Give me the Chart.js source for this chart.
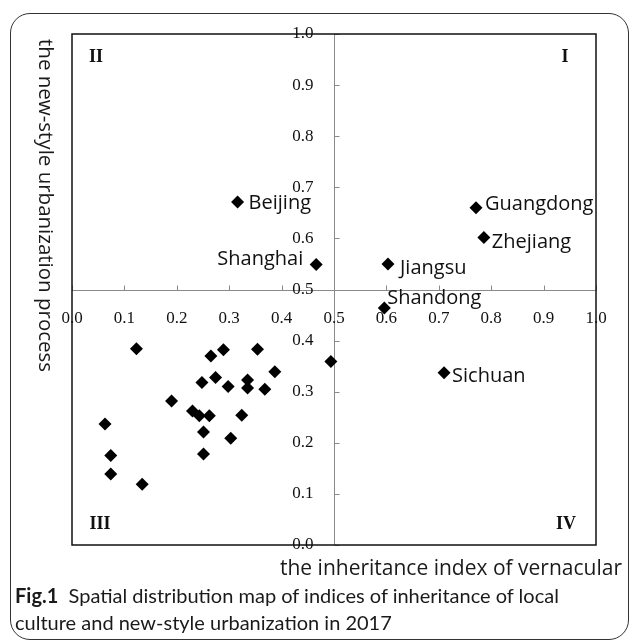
<!DOCTYPE html>
<html lang="en">
<head>
<meta charset="UTF-8">
<title>Spatial distribution map</title>
<script src="https://cdn.jsdelivr.net/npm/chart.js"></script>
<style>
  body { margin: 0; background: #fff; }
  #page { position: relative; width: 630px; height: 642px; overflow: hidden; }
  #box {
    position: absolute; left: 10px; top: 13px; width: 619px; height: 627px;
    border: 1.5px solid #333; border-radius: 20px; box-sizing: border-box;
  }
  #chart-container { position: absolute; left: 0; top: 0; width: 630px; height: 642px; }
  #ytitle {
    position: absolute; left: 35px; top: 39px; line-height: 24px;
    writing-mode: vertical-rl; white-space: nowrap;
    font-family: "Open Sans", sans-serif; font-size: 20.5px; color: #1a1a1a;
  }
  #xtitle {
    position: absolute; right: 8px; top: 555px; line-height: 24px; white-space: nowrap;
    font-family: "Open Sans", sans-serif; font-size: 21px; color: #1a1a1a;
  }
  #caption {
    position: absolute; left: 15px; top: 582px; width: 600px; line-height: 27px;
    font-family: Lato, sans-serif; font-size: 20px; color: #1a1a1a;
  }
  #caption b { font-weight: 700; }
</style>
</head>
<body>
<div id="page">
  <div id="box"></div>
  <div id="chart-container"><canvas id="quadChart"></canvas></div>
  <div id="ytitle">the new-style urbanization process</div>
  <div id="xtitle">the inheritance index of vernacular</div>
  <div id="caption"><b>Fig.1</b>&nbsp; Spatial distribution map of indices of inheritance of local<br>culture and new-style urbanization in 2017</div>
</div>
<script>
// labelled provinces
const namedProvinces = ['Beijing', 'Shanghai', 'Guangdong', 'Zhejiang', 'Jiangsu', 'Shandong', 'Sichuan'];
const namedInheritance = [0.316, 0.466, 0.771, 0.786, 0.603, 0.596, 0.710];
const namedUrbanization = [0.671, 0.549, 0.660, 0.602, 0.550, 0.464, 0.337];

// other provinces (unlabelled)
const otherInheritance = [0.123, 0.190, 0.063, 0.074, 0.074, 0.134, 0.230, 0.243, 0.262, 0.248, 0.265, 0.289,
                          0.274, 0.298, 0.251, 0.251, 0.303, 0.324, 0.335, 0.335, 0.354, 0.368, 0.387, 0.494];
const otherUrbanization = [0.384, 0.282, 0.237, 0.175, 0.139, 0.119, 0.262, 0.253, 0.253, 0.318, 0.370, 0.382,
                           0.328, 0.310, 0.221, 0.178, 0.209, 0.254, 0.323, 0.307, 0.383, 0.305, 0.339, 0.359];

const tickValues = [0, 0.1, 0.2, 0.3, 0.4, 0.5, 0.6, 0.7, 0.8, 0.9, 1.0];
const tickLabels = ['0.0', '0.1', '0.2', '0.3', '0.4', '0.5', '0.6', '0.7', '0.8', '0.9', '1.0'];
const quadrantNames = ['I', 'II', 'III', 'IV'];

// where each province name sits relative to its marker: [dx, dy, align]
const labelPlacement = [[11, 1, 'left'], [-13, -5, 'right'], [9, -3, 'left'], [8, 5, 'left'],
                        [12, 4, 'left'], [3, -10, 'left'], [8, 4, 'left']];

const toPoints = (xs, ys) => xs.map((v, i) => ({ x: v, y: ys[i] }));

const frameAndAxes = {
    id: 'frameAndAxes',
    beforeDatasetsDraw(chart) {
        const { ctx, chartArea: a, scales: { x, y } } = chart;
        const cx = Math.round(x.getPixelForValue(0.5)) + 0.5;
        const cy = Math.round(y.getPixelForValue(0.5)) + 0.5;
        ctx.save();

        // axes crossing at (0.5, 0.5)
        ctx.strokeStyle = '#8a8a8a';
        ctx.lineWidth = 1;
        ctx.beginPath();
        ctx.moveTo(cx, a.top); ctx.lineTo(cx, a.bottom);
        ctx.moveTo(a.left, cy); ctx.lineTo(a.right, cy);
        tickValues.forEach(v => {
            const px = Math.round(x.getPixelForValue(v)) + 0.5;
            ctx.moveTo(px, cy); ctx.lineTo(px, cy - 5);
            const py = Math.round(y.getPixelForValue(v)) + 0.5;
            ctx.moveTo(cx, py); ctx.lineTo(cx + 5, py);
        });
        ctx.stroke();

        // outer frame
        ctx.strokeStyle = '#111';
        ctx.lineWidth = 1.5;
        ctx.strokeRect(a.left, a.top, a.right - a.left, a.bottom - a.top);

        // tick labels
        ctx.fillStyle = '#111';
        ctx.font = '17px "Liberation Serif", serif';
        ctx.textBaseline = 'middle';
        ctx.textAlign = 'center';
        tickValues.forEach((v, i) => ctx.fillText(tickLabels[i], x.getPixelForValue(v), cy + 28));
        ctx.textAlign = 'right';
        tickValues.forEach((v, i) => ctx.fillText(tickLabels[i], cx - 21, y.getPixelForValue(v)));

        // quadrant numerals
        ctx.font = 'bold 18px "Liberation Serif", serif';
        ctx.textAlign = 'center';
        ctx.fillText(quadrantNames[0], a.right - 31, a.top + 23);
        ctx.fillText(quadrantNames[1], a.left + 24, a.top + 23);
        ctx.fillText(quadrantNames[2], a.left + 28, a.bottom - 21);
        ctx.fillText(quadrantNames[3], a.right - 30, a.bottom - 21);
        ctx.restore();
    },
    afterDatasetsDraw(chart) {
        const { ctx } = chart;
        const meta = chart.getDatasetMeta(1);
        ctx.save();
        ctx.fillStyle = '#111';
        ctx.font = '20px "Open Sans", sans-serif';
        ctx.textBaseline = 'middle';
        meta.data.forEach((pt, i) => {
            const [dx, dy, align] = labelPlacement[i];
            ctx.textAlign = align;
            ctx.fillText(namedProvinces[i], pt.x + dx, pt.y + dy);
        });
        ctx.restore();
    }
};

const ctx = document.getElementById('quadChart').getContext('2d');
new Chart(ctx, {
    type: 'scatter',
    data: {
        datasets: [
            {
                label: 'provinces',
                data: toPoints(otherInheritance, otherUrbanization),
                pointStyle: 'rectRot',
                pointRadius: 6.5,
                backgroundColor: '#000',
                borderWidth: 0
            },
            {
                label: 'labelled provinces',
                data: toPoints(namedInheritance, namedUrbanization),
                pointStyle: 'rectRot',
                pointRadius: 6.5,
                backgroundColor: '#000',
                borderWidth: 0
            }
        ]
    },
    options: {
        responsive: true,
        maintainAspectRatio: false,
        animation: false,
        layout: { padding: { left: 72, top: 34, right: 34, bottom: 97 } },
        plugins: { legend: { display: false }, tooltip: { enabled: false } },
        scales: {
            x: { type: 'linear', min: 0, max: 1, display: false },
            y: { type: 'linear', min: 0, max: 1, display: false }
        }
    },
    plugins: [frameAndAxes]
});
</script>
</body>
</html>
